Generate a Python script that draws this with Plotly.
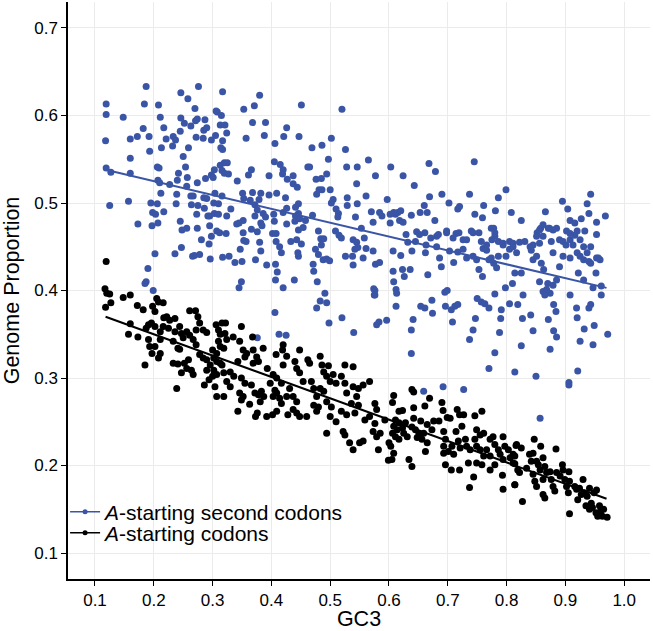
import plotly.graph_objects as go

# ---------------- data ----------------
blue_x = [0.119,0.119,0.118,0.119,0.127,0.125,0.148,0.187,0.184,0.182,0.160,0.172,0.160,0.160,0.157,0.173,0.192,0.193,
0.208,0.211,0.217,0.221,0.213,0.206,0.209,0.207,0.210,0.212,0.195,0.206,0.198,0.203,0.217,0.207,0.197,0.202,0.190,0.187,
0.185,0.199,0.233,0.232,0.237,0.246,0.246,0.252,0.245,0.258,0.263,0.270,0.271,0.274,0.276,0.287,0.285,0.290,0.284,0.272,
0.298,0.306,0.308,0.317,0.315,0.313,0.321,0.324,0.317,0.314,0.317,0.305,0.259,0.250,0.254,0.242,0.257,0.240,0.227,0.239,
0.256,0.274,0.263,0.267,0.285,0.290,0.286,0.264,0.238,0.245,0.256,0.248,0.247,0.236,0.266,0.269,0.278,0.281,0.274,0.273,
0.292,0.295,0.295,0.298,0.294,0.296,0.275,0.288,0.298,0.303,0.313,0.320,0.325,0.316,0.320,0.327,0.301,0.304,0.302,0.310,
0.303,0.310,0.307,0.312,0.323,0.324,0.331,0.316,0.317,0.328,0.342,0.341,0.345,0.352,0.351,0.353,0.361,0.357,0.353,0.371,
0.380,0.368,0.390,0.388,0.366,0.368,0.364,0.372,0.382,0.379,0.376,0.372,0.386,0.382,0.384,0.390,0.366,0.352,0.353,0.357,
0.347,0.350,0.338,0.349,0.345,0.380,0.382,0.373,0.392,0.376,0.405,0.404,0.402,0.408,0.408,0.414,0.417,0.407,0.410,0.407,
0.420,0.406,0.406,0.405,0.396,0.409,0.396,0.415,0.420,0.419,0.427,0.426,0.421,0.424,0.426,0.420,0.426,0.433,0.437,0.437,
0.444,0.446,0.441,0.446,0.441,0.448,0.440,0.446,0.443,0.446,0.445,0.439,0.451,0.447,0.462,0.465,0.458,0.454,0.451,0.469,
0.470,0.476,0.486,0.485,0.481,0.486,0.500,0.477,0.480,0.484,0.489,0.485,0.475,0.480,0.488,0.494,0.499,0.471,0.472,0.478,
0.491,0.494,0.483,0.477,0.498,0.425,0.413,0.376,0.502,0.497,0.494,0.505,0.502,0.510,0.514,0.513,0.509,0.515,0.519,0.520,
0.526,0.528,0.529,0.529,0.543,0.546,0.539,0.545,0.542,0.539,0.538,0.526,0.520,0.540,0.546,0.545,
0.565,0.577,0.603,0.597,0.584,0.588,0.573,0.602,0.608,0.611,0.615,0.620,0.602,0.618,0.624,0.624,0.643,0.638,0.653,0.660,
0.669,0.668,0.679,0.690,0.678,0.665,0.702,0.717,0.720,0.737,0.745,0.761,0.746,0.759,0.781,0.786,0.799,0.808,0.825,0.866,
0.895,0.904,0.908,0.916,0.937,0.943,0.940,0.953,0.968,0.927,
0.553,0.547,0.556,0.573,0.577,0.584,0.607,0.620,0.607,0.608,0.623,0.626,0.612,0.613,0.574,0.575,0.612,0.629,0.632,0.639,
0.636,0.647,0.652,0.661,0.662,0.666,0.681,0.681,0.686,0.689,0.698,0.703,0.710,0.717,0.726,0.714,0.726,0.732,0.743,0.743,
0.749,0.753,0.759,0.760,0.766,0.770,0.774,0.778,0.783,0.775,0.780,0.778,0.786,0.794,0.799,0.805,0.817,0.811,0.822,0.814,
0.810,0.798,0.825,0.840,0.842,0.845,0.851,0.852,0.856,0.862,0.856,0.859,0.863,0.856,0.862,0.868,0.874,0.870,0.879,0.885,
0.876,0.879,0.873,0.885,0.902,0.908,0.913,0.896,0.908,0.890,0.920,0.925,0.931,0.937,0.940,0.943,0.953,0.959,0.952,0.961,
0.947,0.931,0.922,0.961,0.953,0.933,0.920,
0.641,0.638,0.638,0.654,0.661,0.673,0.674,0.695,0.699,0.696,0.706,0.712,0.717,0.708,0.737,0.743,0.747,0.750,0.757,0.763,
0.770,0.780,0.780,0.770,0.788,0.790,0.791,0.805,0.819,0.828,0.827,0.825,0.814,0.841,0.845,0.850,0.857,0.865,0.871,0.874,
0.880,0.885,0.880,0.884,0.908,0.906,0.906,0.919,0.920,0.921,0.925,0.932,0.940,0.943,0.949,0.947,0.972,
0.561,0.570,0.558,0.561,0.645,0.663,0.671,0.684,0.698,0.709,0.719,0.732,0.740,0.753,0.757,0.766,0.774,0.780,0.786,0.794,
0.805,0.811,0.831,0.845,0.851,0.858,0.862,0.871,0.879,0.890,0.896,0.901,0.908,0.916,0.925,0.931,0.943,0.956,
0.576,0.576,0.579,0.583,0.596,0.659,0.692,0.727]

blue_y = [0.613,0.601,0.571,0.540,0.535,0.497,0.598,0.633,0.613,0.585,0.573,0.576,0.551,0.534,0.502,0.476,0.576,0.559,
0.612,0.598,0.586,0.573,0.563,0.541,0.540,0.526,0.523,0.511,0.500,0.499,0.489,0.487,0.490,0.477,0.474,0.442,0.425,0.410,
0.408,0.400,0.576,0.565,0.572,0.626,0.597,0.591,0.582,0.619,0.588,0.608,0.594,0.596,0.633,0.595,0.583,0.586,0.574,0.575,
0.572,0.605,0.604,0.627,0.600,0.589,0.589,0.580,0.571,0.563,0.561,0.577,0.563,0.553,0.541,0.534,0.529,0.526,0.521,0.510,
0.519,0.523,0.508,0.508,0.506,0.505,0.494,0.498,0.499,0.479,0.471,0.469,0.449,0.442,0.439,0.440,0.441,0.458,0.471,0.487,
0.485,0.485,0.474,0.462,0.453,0.436,0.497,0.528,0.532,0.538,0.543,0.546,0.546,0.537,0.534,0.533,0.529,0.511,0.500,0.499,
0.488,0.487,0.468,0.466,0.465,0.485,0.493,0.508,0.438,0.439,0.525,0.476,0.477,0.480,0.511,0.505,0.532,0.574,0.607,0.611,
0.623,0.592,0.592,0.577,0.538,0.512,0.503,0.498,0.511,0.504,0.492,0.485,0.488,0.477,0.474,0.484,0.470,0.466,0.457,0.456,
0.447,0.433,0.432,0.410,0.403,0.455,0.445,0.435,0.429,0.467,0.479,0.487,0.465,0.465,0.456,0.450,0.443,0.430,0.421,0.412,
0.403,0.375,0.568,0.547,0.531,0.511,0.509,0.544,0.538,0.533,0.527,0.586,0.576,0.506,0.494,0.489,0.476,0.456,0.531,0.522,
0.518,0.499,0.495,0.488,0.485,0.482,0.479,0.469,0.458,0.439,0.443,0.412,0.612,0.576,0.541,0.541,0.480,0.472,0.453,0.563,
0.486,0.527,0.566,0.528,0.515,0.515,0.515,0.510,0.468,0.459,0.459,0.452,0.447,0.441,0.435,0.436,0.434,0.430,0.422,0.410,
0.397,0.386,0.388,0.380,0.363,0.349,0.350,0.346,0.574,0.550,0.533,0.504,0.500,0.493,0.488,0.484,0.468,0.463,0.460,0.607,
0.561,0.541,0.506,0.497,0.484,0.499,0.458,0.455,0.447,0.429,0.439,0.439,0.369,0.352,0.541,0.522,
0.549,0.531,0.541,0.504,0.489,0.485,0.478,0.487,0.489,0.487,0.489,0.491,0.477,0.480,0.478,0.531,0.520,0.486,0.489,0.497,
0.507,0.545,0.536,0.510,0.480,0.489,0.500,0.493,0.496,0.510,0.547,0.497,0.487,0.483,0.491,0.506,0.515,0.489,0.480,0.490,
0.502,0.493,0.480,0.477,0.499,0.510,0.488,0.478,0.485,0.482,
0.471,0.449,0.437,0.445,0.430,0.432,0.445,0.440,0.422,0.410,0.424,0.416,0.401,0.397,0.402,0.395,0.382,0.464,0.455,0.445,
0.424,0.467,0.464,0.466,0.443,0.418,0.462,0.450,0.437,0.427,0.466,0.445,0.432,0.444,0.447,0.465,0.458,0.437,0.466,0.439,
0.435,0.424,0.416,0.448,0.446,0.435,0.437,0.431,0.426,0.458,0.462,0.471,0.439,0.452,0.439,0.447,0.443,0.454,0.455,0.420,
0.408,0.403,0.420,0.450,0.446,0.435,0.439,0.466,0.469,0.462,0.454,0.431,0.424,0.410,0.399,0.401,0.397,0.408,0.406,0.412,
0.456,0.443,0.471,0.471,0.468,0.458,0.452,0.439,0.437,0.427,0.443,0.439,0.435,0.443,0.433,0.431,0.437,0.435,0.420,0.405,
0.403,0.412,0.420,0.395,0.464,0.468,0.468,
0.367,0.355,0.328,0.382,0.380,0.389,0.374,0.398,0.400,0.382,0.378,0.382,0.384,0.364,0.344,0.355,0.368,0.391,0.387,0.385,
0.380,0.396,0.329,0.311,0.352,0.368,0.378,0.385,0.384,0.395,0.368,0.337,0.307,0.372,0.354,0.302,0.254,0.395,0.367,0.333,
0.354,0.347,0.384,0.376,0.395,0.295,0.292,0.380,0.369,0.308,0.342,0.356,0.380,0.384,0.360,0.338,0.350,
0.508,0.490,0.460,0.448,0.456,0.452,0.460,0.464,0.468,0.460,0.466,0.458,0.468,0.466,0.456,0.452,0.471,0.466,0.456,0.454,
0.456,0.450,0.456,0.452,0.462,0.471,0.475,0.471,0.469,0.458,0.456,0.452,0.465,0.463,0.458,0.450,0.450,0.437,
0.400,0.395,0.361,0.364,0.366,0.285,0.290,0.287]

black_x = [0.119,0.117,0.120,0.125,0.127,0.118,0.148,0.160,0.172,0.182,0.160,0.157,0.173,0.185,0.191,0.187,0.191,0.196,
0.198,0.202,0.205,0.208,0.216,0.202,0.211,0.216,0.193,0.202,0.197,0.208,0.211,0.211,0.217,0.222,0.227,0.236,0.225,0.236,
0.233,0.244,0.247,0.250,0.256,0.261,0.261,0.271,0.275,0.278,0.272,0.284,0.290,0.267,0.272,0.241,0.244,0.233,0.241,0.252,
0.256,0.259,0.264,0.267,0.247,0.239,0.278,0.284,0.290,0.286,0.294,0.300,0.306,0.310,0.316,0.322,0.313,0.321,0.310,0.313,
0.319,0.324,0.300,0.307,0.302,0.307,0.313,0.296,0.290,0.302,0.307,0.319,0.316,0.330,0.336,0.324,0.330,0.304,0.307,0.319,
0.335,0.349,0.346,0.343,0.352,0.358,0.355,0.369,0.375,0.386,0.368,0.378,0.369,0.349,0.355,0.346,0.352,0.349,0.343,0.366,
0.363,0.372,0.378,0.383,0.376,0.373,0.381,0.387,0.393,0.398,0.392,0.402,0.409,0.403,0.406,0.409,0.403,0.409,0.408,0.419,
0.420,0.426,0.420,0.417,0.414,0.417,0.426,0.431,0.437,0.443,0.437,0.428,0.443,0.448,0.460,0.448,0.440,0.443,0.448,0.454,
0.462,0.465,0.468,0.472,0.477,0.472,0.480,0.477,0.483,0.486,0.489,0.494,0.497,0.500,0.483,0.489,0.494,0.502,0.500,0.510,
0.494,0.505,0.510,0.519,0.525,0.539,0.525,0.528,0.539,0.548,0.556,0.567,0.545,0.536,0.548,0.542,0.528,0.519,0.522,0.525,
0.533,0.539,0.550,0.556,0.559,0.567,0.576,0.576,0.579,0.573,0.579,0.585,0.582,0.599,0.593,
0.608,0.606,0.617,0.623,0.611,0.617,0.608,0.614,0.606,0.611,0.617,0.603,0.608,0.605,0.600,0.623,0.628,0.625,0.631,0.639,
0.642,0.642,0.642,0.639,0.645,0.648,0.654,0.651,0.634,0.639,0.661,0.669,0.665,0.659,0.656,0.665,0.662,0.673,0.676,0.685,
0.690,0.692,0.699,0.704,0.693,0.696,0.693,0.693,0.696,0.706,0.701,0.710,0.707,0.716,0.720,0.727,0.724,0.714,0.718,0.721,
0.720,0.730,0.732,0.738,0.735,0.737,0.744,0.746,0.758,0.749,0.755,0.761,0.746,0.749,0.755,0.761,0.749,0.758,0.766,0.772,
0.777,0.780,0.772,0.772,0.780,0.786,0.789,0.794,0.797,0.794,0.793,0.794,0.803,0.806,0.811,0.814,0.814,0.817,
0.816,0.825,0.814,0.811,0.819,0.814,0.827,0.822,0.834,0.839,0.845,0.842,0.847,0.858,0.851,0.854,0.857,0.845,0.848,0.851,
0.862,0.865,0.868,0.862,0.862,0.865,0.874,0.876,0.879,0.882,0.884,0.885,0.891,0.895,0.896,0.899,0.902,0.906,0.907,0.905,
0.907,0.916,0.919,0.924,0.927,0.930,0.921,0.932,0.937,0.941,0.944,0.935,0.949,0.953,0.946,0.952,0.955,0.960,0.965,0.963,
0.971,0.958,0.941]

black_y = [0.433,0.402,0.397,0.396,0.386,0.381,0.392,0.395,0.383,0.378,0.362,0.350,0.347,0.315,0.344,0.357,0.361,0.363,
0.382,0.376,0.391,0.387,0.386,0.359,0.353,0.359,0.336,0.336,0.328,0.323,0.328,0.344,0.369,0.370,0.366,0.368,0.357,0.353,
0.342,0.359,0.351,0.346,0.353,0.349,0.377,0.377,0.370,0.363,0.355,0.355,0.352,0.344,0.338,0.334,0.333,0.317,0.316,0.317,
0.311,0.321,0.309,0.304,0.306,0.288,0.327,0.323,0.321,0.292,0.298,0.302,0.361,0.355,0.363,0.363,0.350,0.351,0.342,0.336,
0.334,0.344,0.332,0.328,0.323,0.319,0.317,0.315,0.309,0.309,0.304,0.306,0.315,0.307,0.302,0.296,0.290,0.290,0.279,0.279,
0.347,0.359,0.342,0.319,0.332,0.328,0.324,0.332,0.324,0.334,0.347,0.319,0.317,0.300,0.294,0.283,0.279,0.275,0.262,0.292,
0.270,0.283,0.281,0.285,0.260,0.256,0.273,0.279,0.311,0.294,0.256,0.258,0.262,0.279,0.286,0.283,0.304,0.300,0.327,0.332,
0.338,0.325,0.315,0.294,0.277,0.271,0.279,0.288,0.279,0.273,0.264,0.258,0.260,0.256,0.256,0.332,0.319,0.311,0.306,0.296,
0.321,0.317,0.296,0.288,0.279,0.269,0.267,0.262,0.325,0.315,0.307,0.302,0.314,0.296,0.288,0.285,0.273,0.267,0.256,0.250,
0.237,0.304,0.294,0.302,0.315,0.313,0.294,0.283,0.290,0.288,0.292,0.296,0.279,0.271,0.269,0.260,0.258,0.262,0.239,0.235,
0.226,0.218,0.226,0.228,0.252,0.256,0.248,0.271,0.264,0.239,0.233,0.237,0.218,0.206,0.252,
0.280,0.272,0.262,0.263,0.252,0.249,0.245,0.241,0.237,0.233,0.230,0.222,0.214,0.207,0.226,0.243,0.249,0.237,0.233,0.287,
0.284,0.266,0.254,0.244,0.241,0.232,0.251,0.237,0.207,0.199,0.268,0.277,0.247,0.237,0.230,0.226,0.216,0.241,0.251,0.251,
0.272,0.263,0.255,0.254,0.239,0.230,0.222,0.214,0.201,0.195,0.216,0.213,0.222,0.264,0.258,0.258,0.245,0.239,0.228,0.220,
0.195,0.230,0.222,0.218,0.203,0.175,0.187,0.257,0.262,0.241,0.235,0.237,0.230,0.222,0.218,0.211,0.203,0.201,0.218,0.230,
0.233,0.224,0.211,0.195,0.201,0.218,0.213,0.233,0.222,0.207,0.189,0.173,0.218,0.209,0.213,0.202,0.178,0.224,
0.223,0.220,0.211,0.203,0.195,0.178,0.159,0.192,0.197,0.213,0.214,0.205,0.230,0.222,0.205,0.201,0.195,0.190,0.182,0.176,
0.209,0.199,0.192,0.184,0.167,0.163,0.193,0.184,0.176,0.171,0.219,0.192,0.188,0.201,0.195,0.184,0.176,0.193,0.182,0.169,
0.145,0.176,0.173,0.174,0.167,0.184,0.161,0.169,0.165,0.174,0.157,0.154,0.169,0.172,0.152,0.146,0.142,0.148,0.150,0.142,
0.141,0.154,0.150]

# fitted trend lines (end points)
fit_x = [0.118, 0.970]
blue_fit_y = [0.538, 0.403]
black_fit_y = [0.370, 0.162]

# axes
x_ticks = [0.1, 0.2, 0.3, 0.4, 0.5, 0.6, 0.7, 0.8, 0.9, 1.0]
x_tick_labels = ["0.1", "0.2", "0.3", "0.4", "0.5", "0.6", "0.7", "0.8", "0.9", "1.0"]
y_ticks = [0.1, 0.2, 0.3, 0.4, 0.5, 0.6, 0.7]
y_tick_labels = ["0.1", "0.2", "0.3", "0.4", "0.5", "0.6", "0.7"]

series_names = ["<i>A</i>-starting second codons", "<i>A</i>-starting codons"]

BLUE = "#3A55A5"
BLACK = "#000000"
FONT = "Liberation Sans, Arial, Helvetica, sans-serif"

fig = go.Figure()
fig.add_trace(go.Scatter(x=blue_x, y=blue_y, mode="markers", showlegend=False,
                         marker=dict(color=BLUE, size=7, line=dict(width=0)), hoverinfo="skip"))
fig.add_trace(go.Scatter(x=black_x, y=black_y, mode="markers", showlegend=False,
                         marker=dict(color=BLACK, size=7, line=dict(width=0)), hoverinfo="skip"))
fig.add_trace(go.Scatter(x=fit_x, y=blue_fit_y, mode="lines", showlegend=False,
                         line=dict(color=BLUE, width=2), hoverinfo="skip"))
fig.add_trace(go.Scatter(x=fit_x, y=black_fit_y, mode="lines", showlegend=False,
                         line=dict(color=BLACK, width=2), hoverinfo="skip"))
# legend entries (line + dot key, as in the reference)
fig.add_trace(go.Scatter(x=[None], y=[None], mode="lines+markers", name=series_names[0], legend="legend",
                         line=dict(color=BLUE, width=1.5), marker=dict(color=BLUE, size=5)))
fig.add_trace(go.Scatter(x=[None], y=[None], mode="lines+markers", name=series_names[1], legend="legend2",
                         line=dict(color=BLACK, width=1.5), marker=dict(color=BLACK, size=5)))

axis_common = dict(
    showgrid=True, gridcolor="#EBEBEB", gridwidth=1,
    showline=True, linecolor="black", linewidth=1.5,
    ticks="outside", ticklen=5, tickwidth=1, tickcolor="black",
    zeroline=False, tickfont=dict(size=17, color="black", family=FONT),
    mirror=False, automargin=False,
)

legend_common = dict(xanchor="left", yanchor="middle", bgcolor="rgba(0,0,0,0)", borderwidth=0,
                     font=dict(size=21, family=FONT, color="black"), itemwidth=30)

fig.update_layout(
    template="none",
    width=653, height=631,
    margin=dict(l=68, r=3, t=2, b=52, autoexpand=False),
    plot_bgcolor="white", paper_bgcolor="white",
    font=dict(family=FONT, color="black"),
    xaxis=dict(range=[0.0541, 1.0439], tickvals=x_ticks, ticktext=x_tick_labels,
               title=dict(text="GC3", font=dict(size=21.5, family=FONT), standoff=6), **axis_common),
    yaxis=dict(range=[0.0703, 0.7297], tickvals=y_ticks, ticktext=y_tick_labels,
               title=dict(text="Genome Proportion", font=dict(size=21.5, family=FONT), standoff=14), **axis_common),
    legend=dict(x=-0.005, y=0.116, **legend_common),
    legend2=dict(x=-0.005, y=0.0795, **legend_common),
    showlegend=True,
)

# remove the default page margin so the 653x631 figure fills the window exactly
fig.write_html("out.html", config={"displayModeBar": False},
               post_script="document.body.style.margin='0';document.body.style.overflow='hidden';")
